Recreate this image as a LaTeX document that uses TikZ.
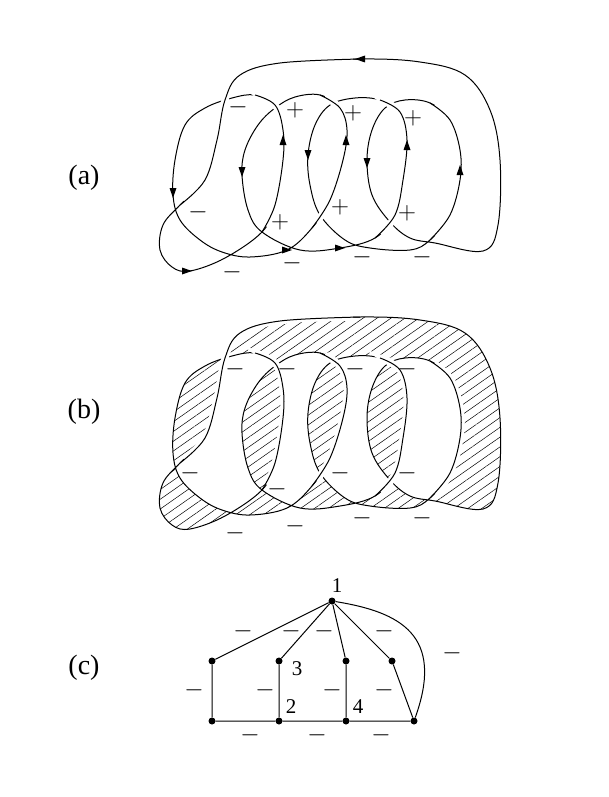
\documentclass[tikz,border=0pt]{standalone}
\usepackage{fontspec}
\setmainfont{Liberation Serif}
\usetikzlibrary{patterns.meta}
\tikzset{
    strand/.style={line width=1pt},
    over/.style={line width=1pt, preaction={draw, white, line width=7pt, shorten <=7pt, shorten >=7pt}},
    sign/.style={font=\fontsize{28}{30}\selectfont},
    lbl/.style={font=\fontsize{28}{30}\selectfont},
    num/.style={font=\fontsize{21}{23}\selectfont},
    vertex/.style={circle, fill, inner sep=0pt, minimum size=7pt}
}
\newcommand{\arrdown}[1]{\fill (#1) ++(0,5) -- ++(-3.5,-10) -- ++(7,0) -- cycle;}
\newcommand{\arrup}[1]{\fill (#1) ++(0,-5) -- ++(-3.5,10) -- ++(7,0) -- cycle;}
\newcommand{\arrleft}[1]{\fill (#1) ++(-5,0) -- ++(10,-3.5) -- ++(0,7) -- cycle;}
\newcommand{\arrright}[1]{\fill (#1) ++(5,0) -- ++(-10,-3.5) -- ++(0,7) -- cycle;}
\begin{document}
\begin{tikzpicture}[x=1pt, y=-1pt]
    \useasboundingbox (0,0) rectangle (609,797);

    % (a) oriented diagram
    \node[lbl] (la) at (84,178) {(a)};
    \draw[strand] plot[smooth cycle, tension=0.6] coordinates {
        (435,243) (483,251) (498,225) (500,160) (490,110) (465,75) (420,62) (360,59) (280,63) (240,75) (225,100) (217,140) (205,180) (180,205) (163,225) (160,250) (172,267) (190,271) (225,258) (262,232)
        (275,205) (283,160) (283,130) (275,105) (255,95) (232,98) (205,108)
        (185,125) (175,160) (173,195) (180,220) (200,240) (222,252)
        (250,257) (287,250) (312,228) (330,200) (343,160) (347,130) (340,108) (320,95) (295,97) (275,108)
        (258,125) (245,150) (242,175) (248,210) (262,232) (300,250) (340,248) (375,238) (395,215) (403,180) (407,140) (400,112) (380,100) (355,98)
        (330,105) (315,125) (308,155) (310,185) (320,215) (345,240) (370,248) (410,250) (430,240) (450,215) (460,180) (460,150) (450,120) (430,103) (405,100) (385,108)
        (372,130) (367,160) (372,195) (390,222) (410,238)};
    % strands on top
    \draw[over] plot[smooth, tension=0.6] coordinates {(360,59) (280,63) (240,75) (225,100) (217,140) (205,180) (180,205)};
    \draw[over] plot[smooth, tension=0.6] coordinates {(262,232) (275,205) (283,160) (283,130) (275,105) (255,95)};
    \draw[over] plot[smooth, tension=0.6] coordinates {(312,228) (330,200) (343,160) (347,130) (340,108) (320,95)};
    \draw[over] plot[smooth, tension=0.6] coordinates {(375,238) (395,215) (403,180) (407,140) (400,112) (380,100)};
    \draw[over] plot[smooth, tension=0.6] coordinates {(430,240) (450,215) (460,180) (460,150) (450,120) (430,103)};
    \arrleft{360,59}
    \arrdown{173,193} \arrdown{242,172} \arrdown{308,155} \arrdown{367,163}
    \arrup{283,140} \arrup{346,140} \arrup{407,145} \arrup{460,170}
    \arrright{187,271} \arrright{287,250} \arrright{340,248}
    \foreach \p in {(238,107), (198,212), (232,272), (292,263), (362,257), (422,257)}
        \node[sign] at \p {$-$};
    \foreach \p in {(295,110), (353,113), (413,118), (280,222), (340,207), (407,213)}
        \node[sign] at \p {$+$};

    % (b) shaded diagram
    \node[lbl] (lb) at (84,412) {(b)};
    \begin{scope}[yshift=-258pt]
        \draw[strand, pattern={Lines[angle=35, distance=8pt, line width=0.5pt]}, even odd rule] plot[smooth cycle, tension=0.6] coordinates {
            (435,243) (483,251) (498,225) (500,160) (490,110) (465,75) (420,62) (360,59) (280,63) (240,75) (225,100) (217,140) (205,180) (180,205) (163,225) (160,250) (172,267) (190,271) (225,258) (262,232)
            (275,205) (283,160) (283,130) (275,105) (255,95) (232,98) (205,108)
            (185,125) (175,160) (173,195) (180,220) (200,240) (222,252)
            (250,257) (287,250) (312,228) (330,200) (343,160) (347,130) (340,108) (320,95) (295,97) (275,108)
            (258,125) (245,150) (242,175) (248,210) (262,232) (300,250) (340,248) (375,238) (395,215) (403,180) (407,140) (400,112) (380,100) (355,98)
            (330,105) (315,125) (308,155) (310,185) (320,215) (345,240) (370,248) (410,250) (430,240) (450,215) (460,180) (460,150) (450,120) (430,103) (405,100) (385,108)
            (372,130) (367,160) (372,195) (390,222) (410,238)};
        \draw[over] plot[smooth, tension=0.6] coordinates {(360,59) (280,63) (240,75) (225,100) (217,140) (205,180) (180,205)};
        \draw[over] plot[smooth, tension=0.6] coordinates {(262,232) (275,205) (283,160) (283,130) (275,105) (255,95)};
        \draw[over] plot[smooth, tension=0.6] coordinates {(312,228) (330,200) (343,160) (347,130) (340,108) (320,95)};
        \draw[over] plot[smooth, tension=0.6] coordinates {(375,238) (395,215) (403,180) (407,140) (400,112) (380,100)};
        \draw[over] plot[smooth, tension=0.6] coordinates {(430,240) (450,215) (460,180) (460,150) (450,120) (430,103)};
    \end{scope}
    \foreach \p in {(235,369), (287,369), (355,369), (407,369), (190,473), (277,489), (340,473), (407,473), (235,533), (295,526), (362,518), (422,518)}
        \node[sign] at \p {$-$};

    % (c) graph
    \node[lbl] (lc) at (84,668) {(c)};
    \node[vertex] (v1) at (332,601) {};
    \node[vertex] (a1) at (212,661) {};
    \node[vertex] (a2) at (212,721) {};
    \node[vertex] (v3) at (279,661) {};
    \node[vertex] (v2) at (279,721) {};
    \node[vertex] (b1) at (346,661) {};
    \node[vertex] (v4) at (346,721) {};
    \node[vertex] (c1) at (392,661) {};
    \node[vertex] (c2) at (414,721) {};
    \draw[strand] (v1) -- (a1) -- (a2) -- (v2) -- (v4) -- (c2) -- (c1) -- (v1);
    \draw[strand] (v1) -- (v3) -- (v2);
    \draw[strand] (v1) -- (b1) -- (v4);
    \draw[strand] (v1) .. controls (400,612) and (445,635) .. (c2);
    \node[num] at (337,586) {1};
    \node[num] at (297,669) {3};
    \node[num] at (291,707) {2};
    \node[num] at (358,707) {4};
    \foreach \p in {(243,631), (291,631), (324,631), (384,631), (452,653), (194,690), (265,690), (332,690), (384,690), (250,735), (317,735), (381,735)}
        \node[sign] at \p {$-$};
\end{tikzpicture}
\end{document}
